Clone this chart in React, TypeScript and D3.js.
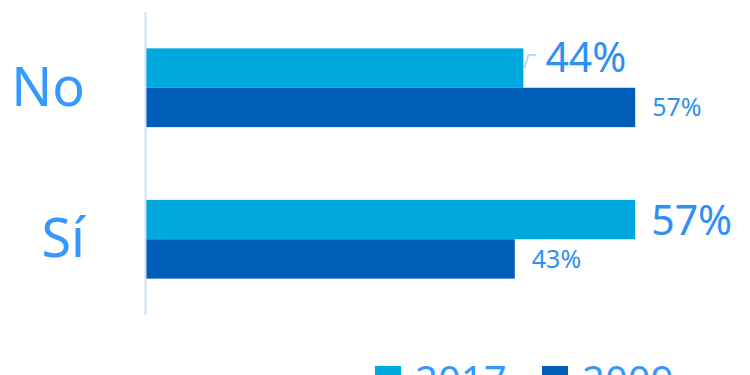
import React from "react";
import * as d3 from "d3";

const categories = ["No", "Sí"];
const seriesNames = ["2017", "2009"];
const values2017 = [44, 57];
const values2009 = [57, 43];
const colors = ["#00A8E0", "#005EB8"];

const W = 750;
const H = 375;
const FONT = "'Noto Sans', 'Open Sans', sans-serif";

export default function App() {
  const y = d3.scaleBand<string>().domain(categories).range([12, 315]).paddingInner(0.48).paddingOuter(0.24);
  const ySub = d3.scaleBand<string>().domain(seriesNames).range([0, y.bandwidth()]).padding(0);
  const x = d3.scaleLinear().domain([0, 100]).range([145, 1005]);
  const series = [values2017, values2009];

  return (
    <svg width={W} height={H} style={{ position: "absolute", left: 0, top: 0 }} fontFamily={FONT}>
      <rect width={W} height={H} fill="#fff" />
      {categories.map((c, ci) => (
        <g key={c}>
          {series.map((vals, si) => {
            const y0 = (y(c) as number) + (ySub(seriesNames[si]) as number);
            const h = ySub.bandwidth();
            const v = vals[ci];
            const xe = x(v);
            const big = si === 0;
            const hasLeader = big && v === 44;
            const lx = xe + (hasLeader ? 22 : big ? 16 : 17);
            const ly = y0 + h / 2 + (big ? (hasLeader ? 4 : 15) : 9);
            return (
              <g key={si}>
                <rect x={x(0)} y={y0} width={xe - x(0)} height={h} fill={colors[si]} />
                {hasLeader && (
                  <path
                    d={`M${xe + 1},${y0 + h / 2} L${xe + 5},${y0 + h / 2 - 13} L${xe + 13},${y0 + h / 2 - 13}`}
                    fill="none"
                    stroke="#A9CFF2"
                    strokeWidth={1.5}
                  />
                )}
                <text x={lx} y={ly} fontSize={big ? 41 : 25} fill="#2E90F5">
                  {v}%
                </text>
              </g>
            );
          })}
          <text
            x={85}
            y={(y(c) as number) + y.bandwidth() / 2 + 18}
            textAnchor="end"
            fontSize={54}
            fill="#3399FF"
          >
            {c}
          </text>
        </g>
      ))}
      <line x1={145.5} x2={145.5} y1={12} y2={315} stroke="#CFE3F7" strokeWidth={2} />
      {seriesNames.map((s, i) => (
        <g key={s} transform={`translate(${375 + i * 167},366)`}>
          <rect x={0} y={0} width={26} height={26} fill={colors[i]} />
          <text x={40} y={29} fontSize={40} fill="#3399FF">
            {s}
          </text>
        </g>
      ))}
    </svg>
  );
}
